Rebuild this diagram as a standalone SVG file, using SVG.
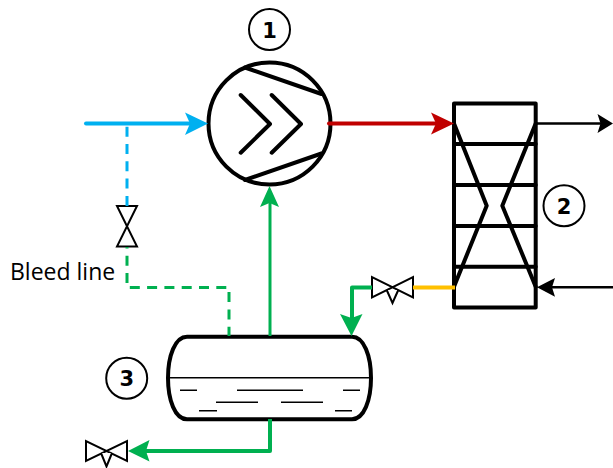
<svg xmlns="http://www.w3.org/2000/svg" width="613" height="468" viewBox="0 0 613 468">
<style>
.k{fill:none;stroke:#000;stroke-width:4;stroke-linecap:round;stroke-linejoin:round}
.t{fill:none;stroke:#000;stroke-width:1.6}
.v{fill:#fff;stroke:#000;stroke-width:2;stroke-linejoin:miter}
.c{fill:#fff;stroke:#000;stroke-width:2}
.n{font-family:"DejaVu Sans",sans-serif;font-size:21px;font-weight:700;text-anchor:middle;fill:#000}
.l{fill:none;stroke-width:4;stroke-linejoin:round}
.d{stroke-dasharray:10 7.300;stroke-width:3}
</style>
<rect width="613" height="468" fill="#fff"/>
<g id="node-1">
<circle cx="269.500" cy="123.500" r="61" fill="#fff" stroke="#000" stroke-width="4"/>
<path class="k" d="M245 67.500L321.500 94M245 180L321.500 153.500"/>
<path class="k" d="M240.700 95L270 124L240.700 152.700M271.700 95L301 124L271.700 152.700"/>
<circle class="c" cx="269.500" cy="29.500" r="20.500"/>
<text class="n" x="269.500" y="37.500">1</text>
</g>
<g id="node-2">
<rect x="454" y="103.500" width="81.700" height="204" class="k"/>
<path class="k" d="M454 144H535.700M454 185H535.700M454 226H535.700M454 266.700H535.700"/>
<path class="k" d="M454 123.500L486.700 205.700L454 286.700M535.700 123.500L502.300 205.700L535.700 286.700"/>
<circle class="c" cx="564" cy="205.700" r="20.500"/>
<text class="n" x="564" y="213.500">2</text>
</g>
<g id="node-3">
<path class="k" d="M187 336.700H352C364 336.700 371 356 371 378C371 400 364 419.300 352 419.300H187C175 419.300 168 400 168 378C168 356 175 336.700 187 336.700Z"/>
<path class="t" d="M168 377.700H371"/>
<path class="t" d="M180 390.300H197M237 390.300H303M343 390.300H360M216 402.300H258M281 402.300H323M199 410.700H217M335 410.700H352"/>
<circle class="c" cx="126.700" cy="378.300" r="20.500"/>
<text class="n" x="126.700" y="386">3</text>
</g>
<g id="valve-1">
<path class="v" d="M117 206H137L117 246.500H137Z"/>
</g>
<g id="valve-2">
<path class="v" d="M372 277V297.500L413 277V297.500Z"/>
<path class="v" d="M386.700 290L392.500 303L398.300 290"/>
</g>
<g id="valve-3">
<path class="v" d="M86 441V461L127 441V461Z"/>
<path class="v" d="M101 453L106.500 466.500L112 453"/>
</g>
<g id="connectors">
<path class="l" d="M86 123.500H195" stroke="#00b0f0" stroke-linecap="round"/>
<path fill="#00b0f0" d="M208 123.500L185 112.500L190 123.500L185 135Z"/>
<path class="l d" d="M127 126.700V206" stroke="#00b0f0"/>
<path class="l d" d="M127 247V287.500H229V336" stroke="#00b050" stroke-dashoffset="8.600"/>
<path class="l" d="M270 336V200" stroke="#00b050" style="stroke-width:3"/>
<path fill="#00b050" d="M269.500 186L260 207L269.500 203L279 207Z"/>
<path class="l" d="M329 123.500H440" stroke="#c00000" stroke-linecap="round"/>
<path fill="#c00000" d="M454 123.500L431 112.500L436 123.500L431 134.500Z"/>
<path d="M537 123.500H604" fill="none" stroke="#000" stroke-width="2.500"/>
<path fill="#000" d="M613 123.500L597.500 114L600.500 123.500L597.500 133Z"/>
<path d="M613 287.300H548" fill="none" stroke="#000" stroke-width="2.500"/>
<path fill="#000" d="M537 287.300L555 278L552 287.300L555 296.700Z"/>
<path class="l" d="M413 287.500H455" stroke="#ffc000"/>
<path class="l" d="M372 287.500H352V322" stroke="#00b050"/>
<path fill="#00b050" d="M351.500 336L340 314L351.500 318L362.500 314Z"/>
<path class="l" d="M270 419V451H140" stroke="#00b050"/>
<path fill="#00b050" d="M128 451L149.500 440L146 451L149.500 461.500Z"/>
</g>
<text x="10" y="280" font-family="'Open Sans','Noto Sans',sans-serif" font-size="23" fill="#000">Bleed line</text>
</svg>
